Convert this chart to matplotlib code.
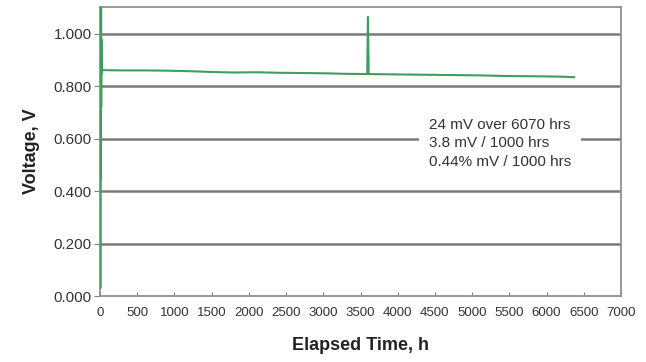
import numpy as np
import matplotlib
matplotlib.use("Agg")
import matplotlib.pyplot as plt

plt.rcParams['font.family'] = ['Liberation Sans', 'DejaVu Sans']

# startup transient (first hours)
startup_t = [0, 2, 4, 6, 8, 10, 12, 14, 16, 18, 20, 24, 28]
startup_v = [0.05, 1.15, 0.03, 1.15, 0.72, 1.12, 0.45, 1.12, 0.72, 0.98, 0.85, 0.866, 0.862]

# long-term run
run_t = [40, 300, 600, 900, 1200, 1500, 1800, 2100, 2400, 2700, 3000, 3300,
         3590, 3600, 3610, 3900, 4200, 4500, 4800, 5100, 5400, 5700, 6000, 6200, 6370]
run_v = [0.862, 0.861, 0.861, 0.860, 0.858, 0.855, 0.853, 0.854, 0.852, 0.851, 0.850, 0.848,
         0.847, 1.065, 0.847, 0.846, 0.845, 0.844, 0.843, 0.842, 0.840, 0.839, 0.838, 0.837, 0.835]

x_ticks = list(range(0, 7001, 500))
y_ticks = [0.0, 0.2, 0.4, 0.6, 0.8, 1.0]
note = "24 mV over 6070 hrs\n3.8 mV / 1000 hrs\n0.44% mV / 1000 hrs"

t = np.array(startup_t + run_t)
v = np.array(startup_v + run_v)

fig = plt.figure(figsize=(6.46, 3.62), dpi=100)
ax = fig.add_axes([100 / 646, 66 / 362, 521 / 646, 289 / 362])

for yv in y_ticks[1:]:
    ax.axhline(yv, color='#7a7a7a', lw=1.8, zorder=1)

ax.plot(t, v, color='#3f9e5e', lw=1.5, zorder=3)

ax.set_xlim(0, 7000)
ax.set_ylim(0, 1.103)
ax.set_xticks(x_ticks)
ax.set_yticks(y_ticks)
ax.set_yticklabels([f"{y:.3f}" for y in y_ticks], fontsize=11, color='#333333')
ax.set_xticklabels([str(x) for x in x_ticks], fontsize=9.5, color='#333333')
ax.tick_params(axis='x', direction='in', length=3, color='#808080', pad=8)
ax.tick_params(axis='y', direction='out', length=4, color='#808080', pad=2)

for s in ax.spines.values():
    s.set_color('#909090')
    s.set_linewidth(1.3)

ax.set_ylabel("Voltage, V", fontsize=13, fontweight='bold', color='#222222', labelpad=10)
ax.set_xlabel("Elapsed Time, h", fontsize=13, fontweight='bold', color='#222222', labelpad=13)

ax.text(4420, 0.680, note, fontsize=11, color='#333333', va='top', ha='left',
        linespacing=1.4, zorder=4,
        bbox=dict(facecolor='white', edgecolor='none', pad=7))

fig.savefig("out.png", dpi=100)
